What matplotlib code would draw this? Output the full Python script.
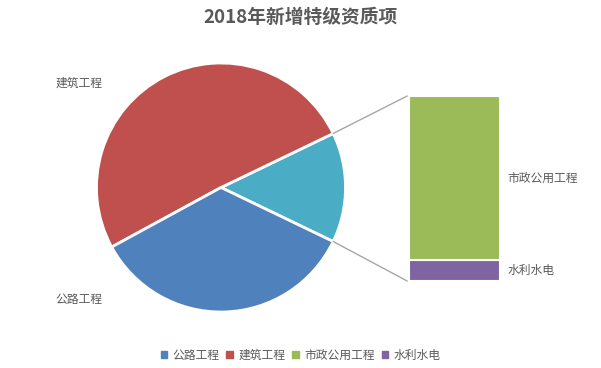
import matplotlib
matplotlib.use("Agg")
import matplotlib.pyplot as plt
from matplotlib.patches import ConnectionPatch, Patch
import numpy as np

plt.rcParams['font.family'] = ['Noto Sans CJK SC', 'DejaVu Sans']

# data
pie_labels = ["公路工程", "建筑工程"]
pie_values = [22, 32]
bar_labels = ["市政公用工程", "水利水电"]
bar_values = [8, 1]
colors = {"公路工程": "#4F81BD", "建筑工程": "#C0504D",
          "市政公用工程": "#9BBB59", "水利水电": "#8064A2"}
other_color = "#4BACC6"
text_color = "#595959"

W, H = 601, 368
fig = plt.figure(figsize=(W / 100, H / 100), dpi=100)


def px_axes(x0, y0, x1, y1):
    # pixel box (top-left origin) -> figure axes
    return fig.add_axes([x0 / W, 1 - y1 / H, (x1 - x0) / W, (y1 - y0) / H])


# pie: other, 建筑, 公路 counter-clockwise starting with the "other" wedge
other = sum(bar_values)
vals = [other, pie_values[1], pie_values[0]]
cols = [other_color, colors["建筑工程"], colors["公路工程"]]
half = other / sum(vals) * 360 / 2
ax_pie = px_axes(96.5, 63, 345.5, 312)
ax_pie.pie(vals, colors=cols, startangle=-half, radius=1,
           wedgeprops=dict(edgecolor="white", linewidth=2))
ax_pie.set_xlim(-1, 1)
ax_pie.set_ylim(-1, 1)
ax_pie.set_aspect("auto")
ax_pie.axis("off")

# bar of pie
ax_bar = px_axes(409, 96, 500, 281)
bottom = 0
for lab, v in zip(bar_labels[::-1], bar_values[::-1]):
    ax_bar.bar(0, v, width=1, bottom=bottom, color=colors[lab],
               edgecolor="white", linewidth=1.5)
    ax_bar.text(0.58, bottom + v / 2, lab, ha="left", va="center",
                fontsize=8.5, color=text_color, clip_on=False)
    bottom += v
ax_bar.set_xlim(-0.5, 0.5)
ax_bar.set_ylim(0, other)
ax_bar.axis("off")

# connector lines
a = np.deg2rad(half)
for sgn, ybar in [(1, other), (-1, 0)]:
    con = ConnectionPatch(xyA=(np.cos(a), sgn * np.sin(a)), coordsA=ax_pie.transData,
                          xyB=(-0.52, ybar), coordsB=ax_bar.transData,
                          color="#A6A6A6", linewidth=1)
    fig.add_artist(con)

# pie labels
fig.text(56 / W, 1 - 83 / H, "建筑工程", fontsize=8.5, color=text_color,
         ha="left", va="center")
fig.text(55 / W, 1 - 300 / H, "公路工程", fontsize=8.5, color=text_color,
         ha="left", va="center")

fig.text(0.5, 1 - 17 / H, "2018年新增特级资质项", fontsize=13.5,
         fontweight="bold", color=text_color, ha="center", va="center")

names = ["公路工程", "建筑工程", "市政公用工程", "水利水电"]
handles = [Patch(color=colors[l]) for l in names]
leg = fig.legend(handles, names,
                 loc="center", bbox_to_anchor=(0.5, 1 - 355 / H), ncol=4,
                 frameon=False, fontsize=8.5, handlelength=0.55, handleheight=0.55,
                 handletextpad=0.45, columnspacing=0.6)
for t in leg.get_texts():
    t.set_color(text_color)

fig.savefig("out.png", dpi=100)
